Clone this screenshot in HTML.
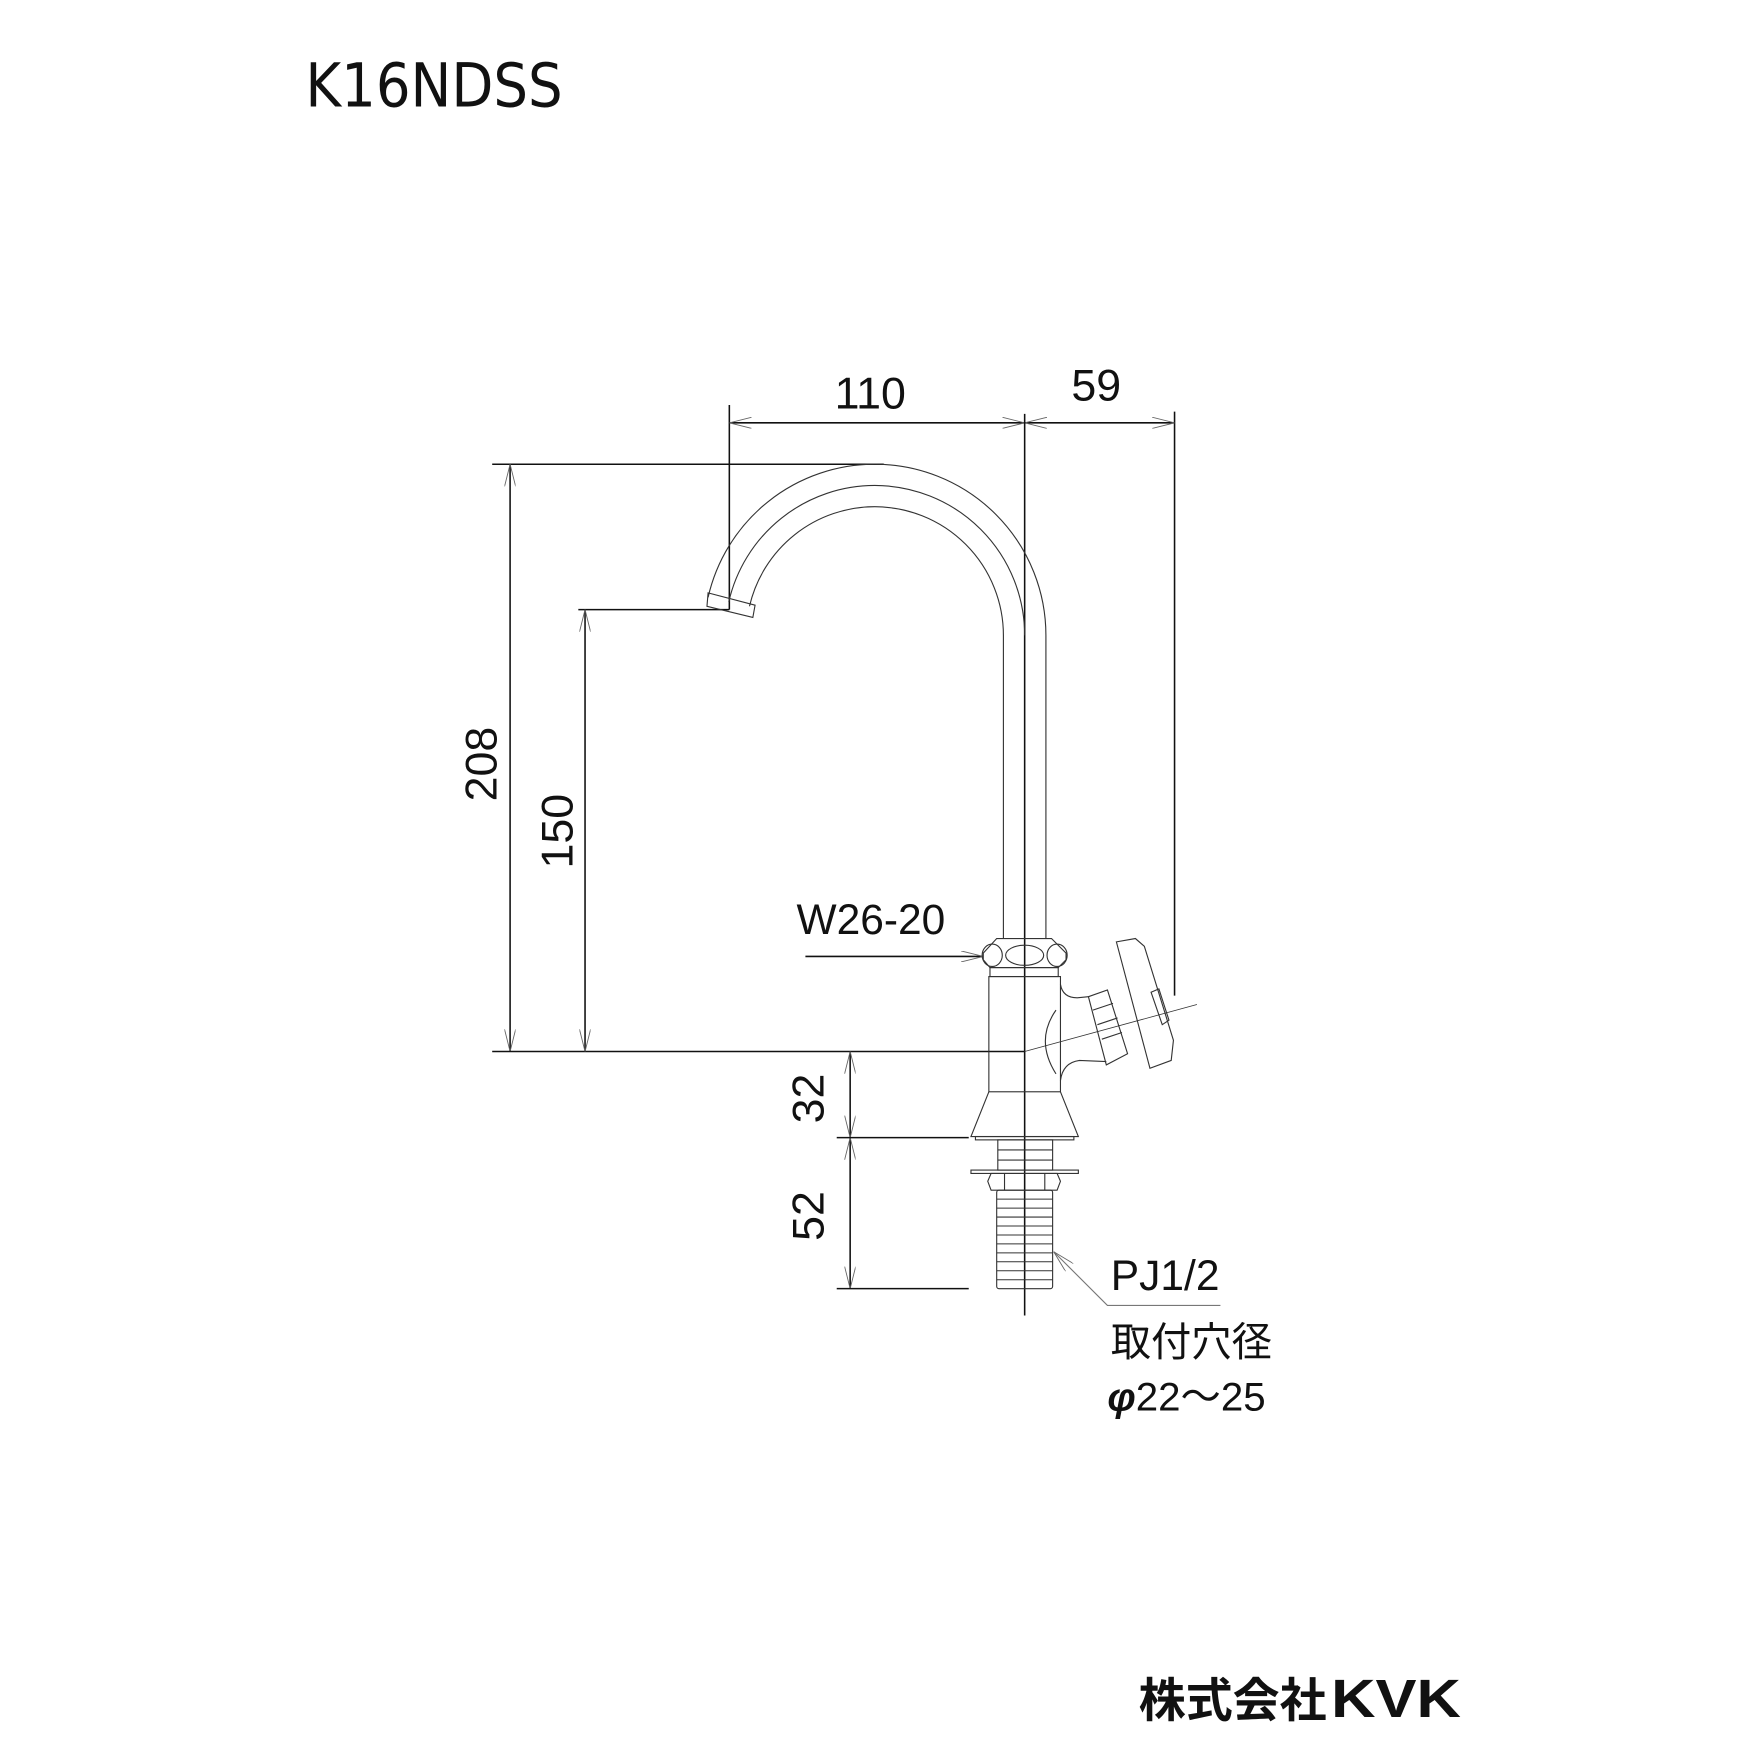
<!DOCTYPE html>
<html><head><meta charset="utf-8"><style>
html,body{margin:0;padding:0;background:#fff}
svg{display:block}
text{font-family:"Liberation Sans","Noto Sans CJK JP",sans-serif;fill:#111}
</style></head><body>
<svg width="1754" height="1754" viewBox="0 0 1568 1568" xmlns="http://www.w3.org/2000/svg">
<defs>
<marker id="a" viewBox="0 0 20 10" refX="20" refY="5" markerWidth="20" markerHeight="10" markerUnits="userSpaceOnUse" orient="auto-start-reverse"><path d="M0,0 L20,5 L0,10" fill="none" stroke="#666" stroke-width="0.8"/></marker>
</defs>
<text x="273" y="95" font-size="54" style="font-family:'DejaVu Sans Condensed','Liberation Sans',sans-serif" textLength="230" lengthAdjust="spacingAndGlyphs">K16NDSS</text>

<g stroke="#111" stroke-width="1.4" fill="none">
<line x1="652" y1="362" x2="652" y2="545"/>
<line x1="1050" y1="368" x2="1050" y2="890"/>
<line x1="652" y1="378" x2="916" y2="378" marker-start="url(#a)" marker-end="url(#a)"/>
<line x1="916" y1="378" x2="1050" y2="378" marker-start="url(#a)" marker-end="url(#a)"/>
<line x1="440" y1="415" x2="790" y2="415"/>
<line x1="456" y1="415" x2="456" y2="940" marker-start="url(#a)" marker-end="url(#a)"/>
<line x1="440" y1="940" x2="916" y2="940"/>
<line x1="517" y1="545" x2="652" y2="545"/>
<line x1="523" y1="545" x2="523" y2="940" marker-start="url(#a)" marker-end="url(#a)"/>
<line x1="760" y1="940" x2="760" y2="1017" marker-start="url(#a)" marker-end="url(#a)"/>
<line x1="760" y1="1017" x2="760" y2="1152" marker-start="url(#a)" marker-end="url(#a)"/>
<line x1="748" y1="1017" x2="866" y2="1017"/>
<line x1="748" y1="1152" x2="866" y2="1152"/>
<line x1="916" y1="370" x2="916" y2="1176"/>
<line x1="720" y1="855" x2="879" y2="855" marker-end="url(#a)"/>
<polyline points="1091,1167 990,1167 942,1119" marker-end="url(#a)" stroke="#777" stroke-width="1"/>
</g>

<g stroke="#333" stroke-width="1" fill="none">
<path d="M633,534 A153,153 0 0 1 782,415 A153,153 0 0 1 935,568 L935,839"/>
<path d="M651.5,538 A134,134 0 0 1 782,434 A134,134 0 0 1 916,568"/>
<path d="M670,542 A115,115 0 0 1 782,453 A115,115 0 0 1 897,568 L897,839"/>
<path d="M633,530 L675,541 L673,552 L632,542 Z"/>
<path d="M891,839 L940,839 L953,852 L953,858 L946,865 L885,865 L879,858 L879,852 Z"/>
<ellipse cx="887" cy="854" rx="9" ry="10"/>
<ellipse cx="916" cy="854" rx="17" ry="9"/>
<ellipse cx="945" cy="854" rx="9" ry="10"/>
<rect x="885" y="865" width="61" height="8"/>
<rect x="884" y="873" width="64" height="103"/>
<path d="M884,976 L868,1016 L964,1016 L948,976"/>
<rect x="872" y="1016" width="88" height="3"/>
<rect x="892" y="1019" width="49" height="27"/>
<line x1="892" y1="1028" x2="941" y2="1028"/><line x1="892" y1="1037" x2="941" y2="1037"/>
<rect x="868" y="1046" width="96" height="3"/>
<path d="M886,1049 L945,1049 L948,1056 L945,1064 L886,1064 L883,1056 Z"/>
<line x1="898" y1="1049" x2="898" y2="1064"/><line x1="934" y1="1049" x2="934" y2="1064"/>
<rect x="891" y="1064" width="50" height="88" rx="2"/>
<g stroke-width="0.9">
<line x1="891" y1="1072" x2="941" y2="1072"/><line x1="891" y1="1080" x2="941" y2="1080"/>
<line x1="891" y1="1088" x2="941" y2="1088"/><line x1="891" y1="1096" x2="941" y2="1096"/>
<line x1="891" y1="1104" x2="941" y2="1104"/><line x1="891" y1="1112" x2="941" y2="1112"/>
<line x1="891" y1="1120" x2="941" y2="1120"/><line x1="891" y1="1128" x2="941" y2="1128"/>
<line x1="891" y1="1136" x2="941" y2="1136"/><line x1="891" y1="1144" x2="941" y2="1144"/>
</g>
<path d="M948,880 Q950,892 963,892 L973,891"/>
<path d="M948,966 Q950,950 965,948 L989,949"/>
<path d="M944,903 Q925,930 944,960"/>
<path d="M973,891 L990,885 L1008,942 L989,952 Z"/>
<line x1="977" y1="903" x2="995" y2="897"/><line x1="981" y1="916" x2="999" y2="910"/><line x1="985" y1="929" x2="1003" y2="923"/>
<path d="M998,842 L1015,839 L1023,846 L1049,930 L1047,948 L1028,955 Z"/>
<path d="M1029,887 L1036,884 L1045,912 L1039,916 Z"/>
<line x1="916" y1="940" x2="1070" y2="898" stroke-width="0.7"/>
</g>

<text x="778" y="365" font-size="40" text-anchor="middle">110</text>
<text x="980" y="358" font-size="40" text-anchor="middle">59</text>
<text transform="translate(444,683) rotate(-90)" font-size="40" text-anchor="middle">208</text>
<text transform="translate(512,743) rotate(-90)" font-size="40" text-anchor="middle">150</text>
<text transform="translate(736,982) rotate(-90)" font-size="40" text-anchor="middle">32</text>
<text transform="translate(736,1087) rotate(-90)" font-size="40" text-anchor="middle">52</text>
<text x="712" y="835" font-size="38">W26-20</text>
<text x="993" y="1153" font-size="38">PJ1/2</text>
<text x="993" y="1212" font-size="36">取付穴径</text>
<text x="990" y="1261" font-size="36"><tspan font-style="italic" font-weight="bold">φ</tspan>22～25</text>
<text x="1018" y="1535" font-size="42" font-weight="bold">株式会社</text>
<text x="1190" y="1535" font-size="48" font-weight="bold" textLength="116" lengthAdjust="spacingAndGlyphs">KVK</text>
</svg>
</body></html>
